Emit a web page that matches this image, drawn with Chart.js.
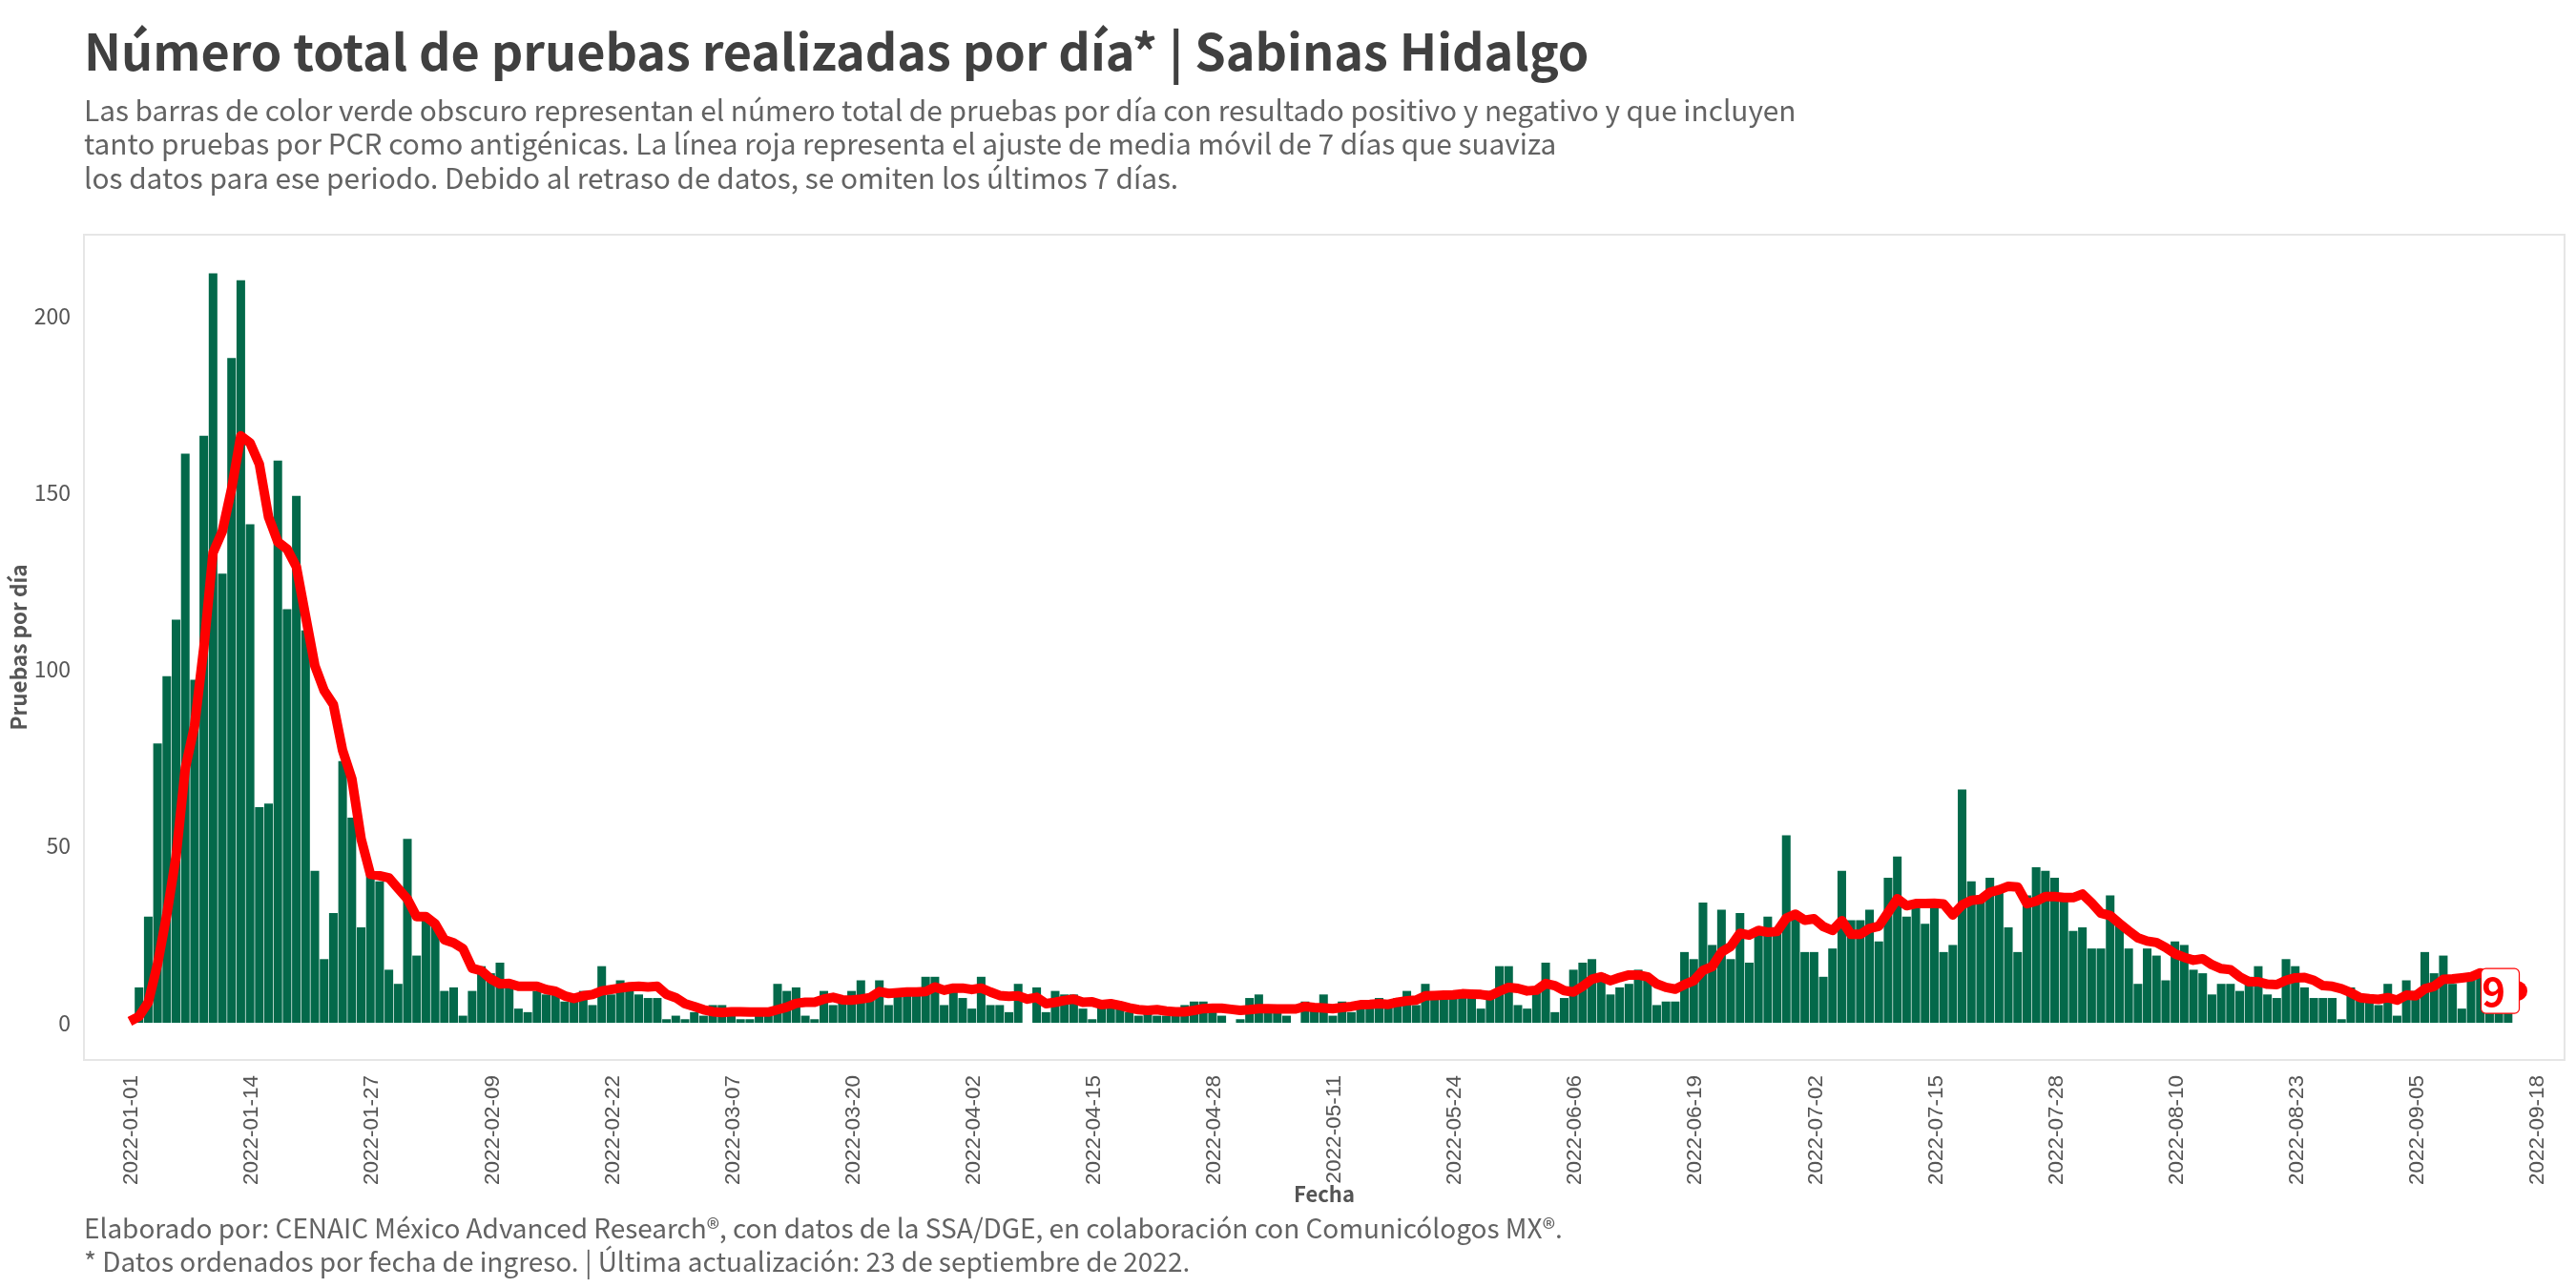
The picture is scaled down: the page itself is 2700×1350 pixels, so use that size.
<!DOCTYPE html>
<html lang="es">
<head>
<meta charset="utf-8">
<title>Pruebas por día | Sabinas Hidalgo</title>
<script src="https://cdn.jsdelivr.net/npm/chart.js@4"></script>
<style>
    html, body { margin: 0; padding: 0; background: #fff; }
    body { width: 2700px; height: 1350px; position: relative; overflow: hidden; font-family: 'Noto Sans CJK SC', sans-serif; }
    #grafica { position: absolute; left: 0; top: 0; }
    .texto { position: absolute; white-space: pre; margin: 0; }
    #titulo { left: 88px; top: 12px; font-size: 52.1px; line-height: 80px; font-weight: 700; color: #404040; }
    #subtitulo { left: 88px; top: 96.5px; font-size: 29.8px; line-height: 35.7px; color: #636363; }
    #pie { left: 88px; top: 1269px; font-size: 27.95px; line-height: 34.5px; color: #636363; }
</style>
</head>
<body>
<canvas id="grafica" width="2700" height="1350"></canvas>
<h1 class="texto" id="titulo">Número total de pruebas realizadas por día* | Sabinas Hidalgo</h1>
<p class="texto" id="subtitulo">Las barras de color verde obscuro representan el número total de pruebas por día con resultado positivo y negativo y que incluyen
tanto pruebas por PCR como antigénicas. La línea roja representa el ajuste de media móvil de 7 días que suaviza
los datos para ese periodo. Debido al retraso de datos, se omiten los últimos 7 días.</p>
<p class="texto" id="pie">Elaborado por: CENAIC México Advanced Research®, con datos de la SSA/DGE, en colaboración con Comunicólogos MX®.
* Datos ordenados por fecha de ingreso. | Última actualización: 23 de septiembre de 2022.</p>
<script>
// Tests per day, one value per day starting 2022-01-01
const pruebasDia = [
    0, 10, 30, 79, 98, 114, 161, 97, 166, 212,
    127, 188, 210, 141, 61, 62, 159, 117, 149, 111,
    43, 18, 31, 74, 58, 27, 42, 40, 15, 11,
    52, 19, 29, 28, 9, 10, 2, 9, 16, 14,
    17, 10, 4, 3, 9, 8, 8, 6, 6, 9,
    5, 16, 8, 12, 10, 8, 7, 7, 1, 2,
    1, 3, 2, 5, 5, 4, 1, 1, 2, 2,
    11, 9, 10, 2, 1, 9, 5, 6, 9, 12,
    7, 12, 5, 8, 8, 8, 13, 13, 5, 9,
    7, 4, 13, 5, 5, 3, 11, 0, 10, 3,
    9, 8, 8, 4, 1, 6, 6, 5, 3, 2,
    3, 2, 2, 3, 5, 6, 6, 4, 2, 0,
    1, 7, 8, 5, 4, 2, 0, 6, 4, 8,
    2, 6, 3, 4, 5, 7, 5, 7, 9, 5,
    11, 7, 7, 8, 8, 8, 4, 9, 16, 16,
    5, 4, 10, 17, 3, 7, 15, 17, 18, 14,
    8, 10, 11, 15, 13, 5, 6, 6, 20, 18,
    34, 22, 32, 18, 31, 17, 27, 30, 26, 53,
    30, 20, 20, 13, 21, 43, 29, 29, 32, 23,
    41, 47, 30, 33, 28, 33, 20, 22, 66, 40,
    35, 41, 37, 27, 20, 36, 44, 43, 41, 36,
    26, 27, 21, 21, 36, 28, 21, 11, 21, 19,
    12, 23, 22, 15, 14, 8, 11, 11, 9, 13,
    16, 8, 7, 18, 16, 10, 7, 7, 7, 1,
    10, 8, 8, 5, 11, 2, 12, 9, 20, 14,
    19, 11, 4, 13, 13, 4, 4, 4
];

// 7 day moving average
const mediaMovil = [
    0.4, 1.8, 5.8, 16.6, 30.6, 47, 72, 84, 106, 133,
    139, 151, 166, 164, 158, 143, 136, 134, 129, 115,
    101, 94, 90, 77, 69, 52, 42, 41.6, 41, 38,
    35, 30, 30, 28, 23.5, 22.6, 21, 15.4, 14.7, 12.4,
    11, 11.1, 10.3, 10.3, 10.3, 9.4, 8.9, 7.6, 6.9, 7.6,
    8, 9, 9.4, 9.8, 10.2, 10.3, 10.1, 10.3, 8, 7.1,
    5.4, 4.6, 3.7, 3.1, 2.9, 3.1, 3.1, 3, 3, 3,
    3.7, 4.4, 5.5, 5.8, 5.8, 6.7, 7.2, 6.5, 6.4, 6.7,
    7.1, 8.8, 8.3, 8.5, 8.7, 8.7, 8.8, 10.1, 9.2, 9.8,
    9.8, 9.4, 9.8, 8.7, 7.7, 7.5, 7.6, 6.7, 7.2, 5.4,
    5.8, 6.3, 6.7, 5.8, 5.9, 5.1, 5.4, 4.9, 4.2, 3.7,
    3.5, 3.7, 3.3, 3.1, 3.1, 3.5, 4, 4.1, 4.1, 3.8,
    3.5, 3.7, 4, 4, 3.9, 3.9, 3.9, 4.6, 4.3, 4.2,
    4, 4.3, 4.6, 5.1, 5.2, 5.4, 5.2, 5.8, 6.2, 6.4,
    7.6, 7.7, 7.8, 7.9, 8.2, 8.1, 8, 7.6, 8.9, 10,
    9.7, 9, 9.2, 11.1, 10.5, 9.1, 8.7, 10.3, 12.3, 13,
    11.9, 12.8, 13.5, 13.5, 13, 11, 10, 9.5, 10.8, 11.9,
    14.8, 15.9, 20, 21.6, 25.3, 24.8, 26.1, 25.6, 25.8, 29.6,
    30.7, 29, 29.4, 27.2, 26.1, 28.9, 25, 25, 26.7, 27.3,
    31.2, 35.1, 33.1, 33.7, 33.7, 33.8, 33.6, 30.5, 33.3, 34.6,
    34.9, 36.9, 37.6, 38.6, 38.4, 33.7, 34.4, 35.7, 35.7, 35.4,
    35.4, 36.4, 33.9, 31, 30.3, 28.1, 26, 24, 23.1, 22.7,
    21.3, 19.5, 18.5, 17.7, 18.1, 16.4, 15.3, 15, 13, 11.6,
    11.6, 10.9, 10.8, 12, 12.7, 12.8, 12, 10.5, 10.3, 9.6,
    8.5, 7.1, 6.8, 6.6, 7.1, 6.4, 7.8, 7.6, 9.6, 10.3,
    12.3, 12.4, 12.7, 13, 14.1, 13, 12, 11, 9
];

const etiquetasFecha = [
    '2022-01-01', '2022-01-14', '2022-01-27', '2022-02-09', '2022-02-22', '2022-03-07', '2022-03-20',
    '2022-04-02', '2022-04-15', '2022-04-28', '2022-05-11', '2022-05-24', '2022-06-06', '2022-06-19',
    '2022-07-02', '2022-07-15', '2022-07-28', '2022-08-10', '2022-08-23', '2022-09-05', '2022-09-18'
];
const diasFecha = [0, 13, 26, 39, 52, 65, 78, 91, 104, 117, 130, 143, 156, 169, 182, 195, 208, 221, 234, 247, 260];
const marcasY = [0, 50, 100, 150, 200];

const VERDE = '#03694a';
const ROJO = '#ff0000';
const GRIS_EJE = '#555555';
const FUENTE = "'Noto Sans CJK SC', sans-serif";

// Panel outline, the theme has no gridlines
const bordePanel = {
    id: 'bordePanel',
    beforeDatasetsDraw(chart) {
        const { ctx, chartArea: a } = chart;
        ctx.save();
        ctx.strokeStyle = '#e6e6e6';
        ctx.lineWidth = 2;
        ctx.strokeRect(a.left, a.top, a.right - a.left, a.bottom - a.top);
        ctx.restore();
    }
};

// Boxed label with the latest moving average value
const etiquetaFinal = {
    id: 'etiquetaFinal',
    afterDatasetsDraw(chart) {
        const { ctx, scales } = chart;
        const ultimo = mediaMovil.length - 1;
        const x = scales.x.getPixelForValue(ultimo);
        const y = scales.y.getPixelForValue(mediaMovil[ultimo]);
        ctx.save();
        ctx.beginPath();
        ctx.roundRect(x - 38, y - 23.5, 40, 47, 5);
        ctx.fillStyle = '#fff';
        ctx.fill();
        ctx.strokeStyle = ROJO;
        ctx.lineWidth = 1.2;
        ctx.stroke();
        ctx.fillStyle = ROJO;
        ctx.font = '700 42px ' + FUENTE;
        ctx.textAlign = 'center';
        ctx.textBaseline = 'middle';
        ctx.fillText(String(Math.round(mediaMovil[ultimo])), x - 25, y);
        ctx.restore();
    }
};

new Chart(document.getElementById('grafica'), {
    data: {
        datasets: [
            {
                type: 'line',
                label: 'Media móvil de 7 días',
                data: mediaMovil.map((v, i) => ({ x: i, y: v })),
                borderColor: ROJO,
                backgroundColor: ROJO,
                borderWidth: 10,
                borderJoinStyle: 'round',
                tension: 0,
                pointRadius: ctx => (ctx.dataIndex === mediaMovil.length - 1 ? 10.5 : 0),
                pointBorderWidth: 0,
                order: 0
            },
            {
                type: 'bar',
                label: 'Pruebas por día',
                data: pruebasDia.map((v, i) => ({ x: i, y: v })),
                backgroundColor: VERDE,
                borderWidth: 0,
                categoryPercentage: 1,
                barPercentage: 0.93,
                order: 1
            }
        ]
    },
    plugins: [bordePanel, etiquetaFinal],
    options: {
        responsive: false,
        animation: false,
        devicePixelRatio: 1,
        layout: { padding: { left: 6, right: 12, top: 246, bottom: 85 } },
        plugins: { legend: { display: false }, tooltip: { enabled: false } },
        scales: {
            x: {
                type: 'linear',
                min: -4.95,
                max: 263.1,
                offset: false,
                grid: { display: false },
                border: { display: false },
                afterBuildTicks: axis => { axis.ticks = diasFecha.map(d => ({ value: d })); },
                afterFit: axis => { axis.height = 154; },
                ticks: {
                    autoSkip: false,
                    minRotation: 90,
                    maxRotation: 90,
                    padding: 8,
                    labelOffset: 2,
                    color: GRIS_EJE,
                    font: { family: "'Liberation Sans', sans-serif", size: 22.5 },
                    callback: value => etiquetasFecha[diasFecha.indexOf(value)]
                },
                title: {
                    display: true,
                    text: 'Fecha',
                    color: GRIS_EJE,
                    padding: 0,
                    font: { family: FUENTE, size: 22, weight: '700' }
                }
            },
            y: {
                min: -10.53,
                max: 222.9,
                grid: { display: false },
                border: { display: false },
                afterBuildTicks: axis => { axis.ticks = marcasY.map(v => ({ value: v })); },
                afterFit: axis => { axis.width = 82; },
                ticks: {
                    padding: 6,
                    color: GRIS_EJE,
                    font: { family: FUENTE, size: 23 }
                },
                title: {
                    display: true,
                    text: 'Pruebas por día',
                    color: GRIS_EJE,
                    padding: 0,
                    font: { family: FUENTE, size: 22.5, weight: '700' }
                }
            }
        }
    }
});
</script>
</body>
</html>
